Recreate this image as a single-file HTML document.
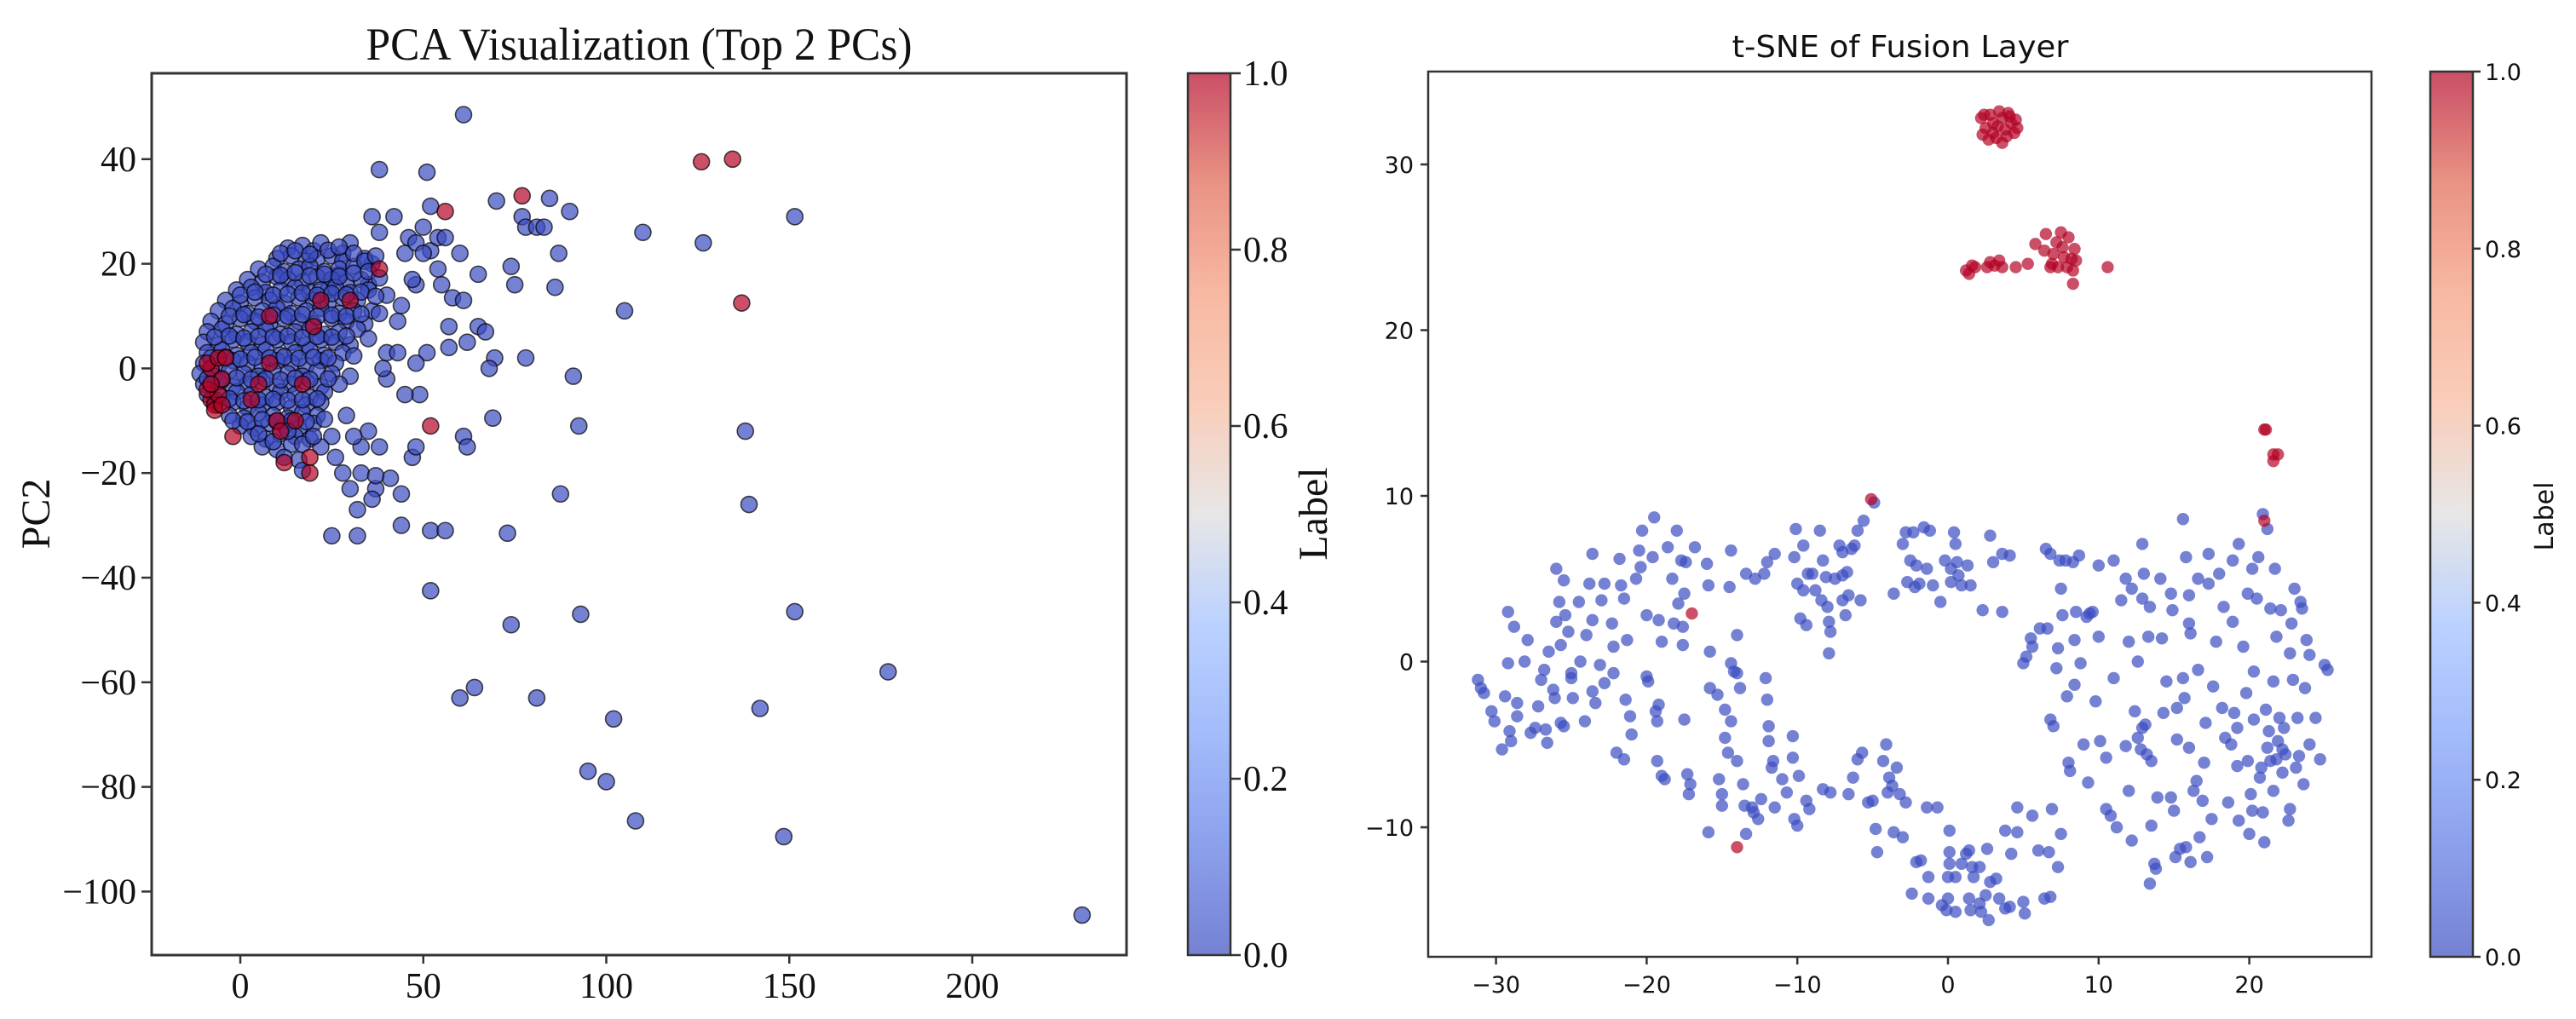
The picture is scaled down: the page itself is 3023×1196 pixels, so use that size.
<!DOCTYPE html>
<html><head><meta charset="utf-8"><style>
html,body{margin:0;padding:0;background:#fff;overflow:hidden;}
svg{display:block;}
</style></head><body>
<svg id="fig" xmlns="http://www.w3.org/2000/svg" width="3023" height="1196" viewBox="0 0 3023 1196">
<defs>
<linearGradient id="cw" x1="0" y1="1" x2="0" y2="0">
<stop offset="0" stop-color="#3b4cc0"/><stop offset="0.125" stop-color="#5a78e4"/><stop offset="0.25" stop-color="#7b9ff9"/><stop offset="0.375" stop-color="#9ebeff"/><stop offset="0.5" stop-color="#dddcdc"/><stop offset="0.625" stop-color="#f7b89c"/><stop offset="0.75" stop-color="#f49a7b"/><stop offset="0.875" stop-color="#e0654f"/><stop offset="1" stop-color="#b40426"/>
</linearGradient>
</defs>
<rect width="3023" height="1196" fill="#fff"/>
<g id="left"></g>
<g id="right"></g>
</svg>
<script>
// ---------- PCA data ----------
const pcaXTicks=[0,50,100,150,200];
const pcaYTicks=[40,20,0,-20,-40,-60,-80,-100];
const cbTicks=[0.0,0.2,0.4,0.6,0.8,1.0];
const pcaOutliers=[[61,48.5],[126.5,24],[38,38],[51,37.5],[70,32],[84.5,32.5],[77,29],[90,30],[151.5,29],[36,29],[42,29],[52,31],[110,26],[78,27],[81,27],[83,27],[87,22],[86,15.5],[74,19.5],[75,16],[65,18],[60,22],[52,22.5],[54,19],[55,16],[58,13.5],[61,13],[105,11],[57,8],[65,8],[67,7],[62,5],[57,4],[69.5,2],[78,2],[68,0],[91,-1.5],[51,3],[48,1],[138,-12],[92.5,-11],[61,-13],[62,-15],[69,-9.5],[49,-5],[45,-5],[87.5,-24],[139,-26],[44,-30],[52,-31],[56,-31],[73,-31.5],[25,-32],[32,-32],[52,-42.5],[93,-47],[151.5,-46.5],[74,-49],[177,-58],[64,-61],[60,-63],[81,-63],[142,-65],[102,-67],[95,-77],[100,-79],[108,-86.5],[148.5,-89.5],[230,-104.5],[47,-17],[48,-15],[44,-24],[41,-21],[37,-23],[36,-25],[38,-15],[32,-27],[33,-20],[37,-20.5],[30,-23],[28,-20],[26,-17],[25,-13],[33,-15],[35,-12],[31,-13],[29,-9],[40,-2],[39,0],[40,3],[43,3],[44,12],[48,16],[47,17],[45,22],[46,25],[48,24],[50,22],[54,25],[56,25],[50,27],[43,9],[40,14],[36,20],[34,21],[35,16],[38,26],[30,24],[28,22],[27,18],[24,15]];
const pcaCluster=[
[13,23],[17,23.5],[20,22.5],[22,24],
[10,21],[14,21.5],[18,20.5],[21,21],[25,21.5],[28,20.5],
[5,19],[9,19.5],[12,18.5],[16,19],[19,19.5],[23,18.5],[27,19],[31,19.5],
[2,17],[6,16.5],[10,17.5],[13,17],[17,16.5],[21,17.5],[25,17],[29,16.5],[33,17],
[-1,15],[3,15.5],[7,14.5],[11,15],[15,15.5],[19,14.5],[22,15],[26,15.5],[30,14.5],[35,15],
[-4,13],[0,12.5],[4,13.5],[8,13],[12,12.5],[16,13.5],[20,13],[24,12.5],[28,13.5],[32,13],
[-6,11],[-2,11.5],[2,10.5],[6,11],[10,11.5],[14,10.5],[18,11],[22,11.5],[27,10.5],[31,11],[36,11],
[-8,9],[-4,8.5],[0,9.5],[4,9],[8,8.5],[12,9.5],[16,9],[20,8.5],[25,9.5],[29,9],[34,8.5],
[-9,7],[-5,7.5],[-1,6.5],[3,7],[7,7.5],[11,6.5],[15,7],[19,7.5],[23,6.5],[27,7],[32,7.5],
[-10,5],[-6,4.5],[-2,5.5],[2,5],[6,4.5],[10,5.5],[14,5],[18,4.5],[22,5.5],[26,5],[30,4.5],
[-9,3],[-5,3.5],[-1,2.5],[3,3],[7,3.5],[11,2.5],[15,3],[19,3.5],[23,2.5],[28,3],
[-10,1],[-6,0.5],[-2,1.5],[2,1],[6,0.5],[10,1.5],[14,1],[18,0.5],[22,1.5],[26,1],
[-11,-1],[-7,-1.5],[-3,-0.5],[1,-1],[5,-1.5],[9,-0.5],[13,-1],[17,-1.5],[21,-0.5],[25,-1],[30,-1.5],
[-10,-3],[-6,-2.5],[-2,-3.5],[2,-3],[6,-2.5],[10,-3.5],[14,-3],[18,-2.5],[22,-3.5],[27,-3],
[-9,-5],[-5,-5.5],[-1,-4.5],[3,-5],[7,-5.5],[11,-4.5],[15,-5],[19,-5.5],[23,-4.5],
[-6,-7],[-2,-6.5],[2,-7.5],[6,-7],[10,-6.5],[14,-7.5],[18,-7],[22,-6.5],
[-3,-9],[1,-9.5],[5,-8.5],[9,-9],[13,-9.5],[17,-8.5],[21,-9],
[0,-11],[4,-11.5],[8,-10.5],[12,-11],[16,-11.5],[20,-10.5],
[3,-13],[7,-13.5],[11,-12.5],[15,-13],[19,-13.5],
[6,-15],[10,-15.5],[14,-14.5],[22,-15],
[12,-17],[16,-17.5],[17,-19.5]];
const pcaCluster2=[
[11,22],[15,22.5],[19,21.8],[24,22.6],[27,23.2],[31,22],[34,20.5],[37,21.5],
[7,18],[11,17.8],[15,18.3],[19,17.7],[23,18],[27,17.6],[31,18.2],[35,18.5],[38,17.3],
[0,14],[4,14.6],[9,14],[13,14.2],[17,14.4],[21,14],[25,14.3],[29,14.1],[33,14.6],[37,13.8],
[-3,10],[1,10.3],[5,9.8],[9,10.2],[13,10],[17,10.3],[21,9.9],[25,10.2],[29,10],[33,10.4],[38,10.5],
[-7,6],[-3,6.2],[1,5.8],[5,6.1],[9,6],[13,6.2],[17,5.9],[21,6.1],[25,6],[29,6.2],[35,5.7],
[-8,2],[-4,2.2],[0,1.8],[4,2.1],[8,2],[12,2.2],[16,1.9],[20,2.1],[24,2],[31,2.4],
[-9,-2],[-5,-2.2],[-1,-1.8],[3,-2.1],[7,-2],[11,-2.2],[15,-1.9],[19,-2.1],[24,-2],
[-7,-6],[-3,-5.8],[1,-6.2],[5,-6],[9,-5.9],[13,-6.1],[17,-6],[21,-5.8],
[-2,-10],[2,-10.2],[6,-9.8],[10,-10.1],[14,-10],[18,-10.2],[23,-9.7],
[5,-12.5],[9,-14],[13,-12],[17,-14.5],[20,-13]];
const pcaRed=[[126,39.5],[134.5,40],[77,33],[56,30],[137,12.5],[52,-11],[38,19],[-8,-6],[-7,-7],[-6,-5],[-9,-4],[-7,-8],[-5,-7],[-8,0],[-9,1],[-6,2],[-4,2],[8,1],[17,-3],[-5,-2],[5,-3],[10,-10],[11,-12],[19,-17],[19,-20],[-2,-13],[12,-18],[20,8],[22,13],[30,13],[15,-10],[3,-6],[-8,-3],[8,10]];

// ---------- t-SNE data ----------
const tsneXTicks=[-30,-20,-10,0,10,20];
const tsneYTicks=[30,20,10,0,-10];
const tsneRed=[[2.2,32.8],[2.5,32.2],[2.3,31.8],[2.8,33.0],[3.0,32.5],[3.2,31.6],[3.4,33.2],[3.6,32.8],[3.8,32.1],[3.6,31.3],[4.0,33.1],[4.2,32.5],[4.4,31.9],[4.5,32.7],[3.0,31.9],[2.7,31.5],[3.9,31.7],[4.1,32.9],[2.4,33.0],[3.3,32.3],[4.6,32.2],
[1.2,23.6],[1.4,23.4],[1.6,23.9],[1.8,23.8],[2.6,23.8],[2.8,24.1],[3.1,23.9],[3.4,24.2],[3.6,23.8],[4.5,23.8],[5.3,24.0],[5.8,25.2],[6.4,24.8],[6.5,25.8],[6.8,23.8],[7.0,24.6],[7.3,23.8],[7.5,25.9],[7.6,25.0],[7.7,24.4],[7.9,23.8],[8.0,25.6],[8.2,24.3],[8.3,23.6],[8.4,24.9],[8.5,24.2],[8.3,22.8],[10.6,23.8],[7.2,25.3],[6.9,24.0],
[21,14],[21.1,14],[21.6,12.5],[21.9,12.5],[21.6,12.1],[21,8.5],[-5.1,9.8],[-17,2.9],[-14,-11.2]];
const tsneBlue=[[20.9,8.9],[21.2,8],[-4.9,9.6],
[-31.2,-1.1],[-31,-1.6],[-30.8,-1.9],[-30.3,-3],[-30.1,-3.6],[-29.6,-5.3],[-29.4,-2.1],[-29.1,-4.2],[-29.0,-4.8],[-29.2,-0.1],[-29.2,3.0],[-28.8,2.1],[-28.6,-2.5],[-28.6,-3.3],[-28.1,0.0],[-27.9,1.3],[-27.7,-4.3],[-27.4,-4.0],[-27.2,-2.7],[-27.0,-1.1],[-26.8,-0.5],[-26.7,-4.1],[-26.6,-4.9],[-26.5,0.6],[-26.2,-1.7],[-26.1,-2.2],[-26.0,2.4],[-26.0,5.6],[-25.8,3.6],[-25.7,1.0],[-25.7,-3.7],[-25.5,-3.9],[-25.5,4.9],[-25.4,2.8],[-25.2,1.8],[-25.0,-0.7],[-25.0,-1.0],[-24.9,-2.2],[-24.5,3.6],[-24.4,0.0],[-24.1,-3.6],[-24.0,1.6],[-23.8,4.7],[-23.6,6.5],[-23.6,2.5],[-23.6,-1.8],[-23.4,-2.5],[-23.1,-0.2],[-23.0,3.7],[-22.8,4.7],[-22.8,-1.3],[-22.3,2.3],[-22.2,0.9],[-22.2,-0.7],[-22.0,-5.5],[-21.8,6.2],[-21.7,4.6],[-21.5,-5.9],[-21.5,3.8],[-21.4,-2.3],[-21.3,1.3],[-21.1,-3.3],[-21.0,-4.4],[-20.7,5.0],[-20.5,6.7],[-20.4,5.7],[-20.3,7.9],[-20.0,2.8],[-20.0,-0.9],[-19.9,-1.2],[-19.6,6.3],[-19.5,8.7],[-19.4,-3.0],[-19.3,-3.6],[-19.2,-2.6],[-19.3,-6.0],[-19.2,2.5],[-19.0,1.2],[-19.0,-6.9],[-18.8,-7.1],
[-18.6,6.9],[-18.3,5.0],[-18.2,2.3],[-18.0,7.9],[-17.9,3.5],[-17.7,6.1],[-17.5,4.1],[-17.4,6.0],[-17.6,2.1],[-17.6,1.0],[-17.5,-3.5],[-17.3,-6.8],[-17.1,-7.4],[-17.2,-8.0],[-16.8,6.9],[-16.0,5.9],[-15.9,4.6],[-15.8,0.6],[-15.8,-1.6],[-15.3,-2.0],[-15.2,-7.1],[-15.0,-8.0],[-15.0,-8.7],[-14.8,-2.9],[-14.8,-4.6],[-14.6,-5.5],[-14.4,-3.6],[-14.5,4.5],[-14.4,6.7],[-14.4,-0.1],[-14.2,-0.6],[-14.0,-0.7],[-13.8,-1.6],[-13.6,-7.4],[-13.4,5.3],[-12.8,5.0],[-13.5,-8.7],[-13.4,-10.4],[-13.0,-8.8],[-12.9,-9.1],[-12.6,-9.5],[-12.2,5.3],[-12.0,6.0],[-12.1,-1.0],[-12.0,-2.3],[-11.9,-3.9],[-11.9,-4.8],[-11.6,-6.0],[-11.5,-8.8],[-11.7,-6.4],[-11.5,6.5],[-11.0,-7.1],[-10.7,-7.9],[-10.3,-5.8],[-10.3,-4.5],[-10.2,-9.5],[-10.0,-9.9],[-9.9,-6.9],[-9.4,-8.4],[-9.6,4.3],[-9.3,5.3],[-9.6,7.0],[-9.2,-8.9],[-12.4,-8.3],[-14.0,1.6],[-14.0,-6.0],[-15.9,-10.3],
[-10.2,6.3],[-10.1,8.0],[-10.0,4.7],[-9.8,2.6],[-9.4,2.2],[-9.0,5.3],[-8.8,4.3],[-8.5,7.9],[-8.4,3.7],[-8.3,6.1],[-8.1,5.1],[-8.0,3.3],[-7.9,2.4],[-7.8,1.8],[-7.9,0.5],[-7.5,5.0],[-7.2,7.0],[-7.0,5.2],[-7.0,3.7],[-6.8,2.8],[-6.6,4.0],[-6.4,6.8],[-6.2,7.0],[-6.0,7.9],[-5.8,3.7],[-5.6,8.5],[-7.0,6.6],[-6.7,5.4],
[-8.3,-7.7],[-7.8,-7.9],[-6.6,-8.0],[-6.3,-7.0],[-6.0,-5.9],[-5.7,-5.5],[-5.3,-8.5],[-5.0,-8.4],[-4.8,-10.1],[-4.7,-11.5],[-4.3,-6.0],[-4.1,-5.0],[-4.0,-7.9],[-3.9,-7.0],[-3.7,-7.5],[-3.6,-10.3],[-3.4,-6.4],[-3.2,-8.0],[-3.0,-10.6],[-2.8,-8.5],[-2.1,-12.1],[-1.8,-12.0],[-1.4,-8.8],[-1.3,-13.0],[-1.3,-14.3],[-0.7,-8.8],[-0.4,-14.7],[-2.4,-14.0],
[-3.6,4.1],[-3.0,7.1],[-2.8,7.8],[-2.7,4.8],[-2.5,6.1],[-2.3,7.8],[-2.2,4.5],[-2.1,5.8],[-1.9,4.7],[-1.6,8.1],[-1.4,5.6],[-1.2,7.9],[-1.0,4.6],[-0.5,3.6],[-0.2,6.1],[0.2,4.8],[0.4,7.8],[0.5,7.1],[0.6,6.0],[0.7,5.2],[0.9,4.6],[1.3,5.8],[1.5,4.6],[2.3,3.1],[2.8,7.6],[3.0,6.0],[3.6,3.0],[3.6,6.5],[4.1,6.4],[0.2,5.6],
[0.1,-10.2],[0.1,-11.5],[0.1,-12.2],[0.0,-13.0],[0.0,-14.3],[-0.1,-15.0],[0.5,-15.1],[0.5,-13.0],[0.9,-12.2],[1.2,-11.6],[1.4,-11.4],[1.6,-12.4],[1.7,-13.0],[2.1,-12.4],[1.4,-14.3],[1.5,-15.0],[2.1,-14.6],[2.2,-15.1],[2.5,-14.1],[2.6,-11.3],[2.8,-13.3],[2.7,-15.6],[3.2,-13.1],[3.4,-14.3],[3.8,-10.2],[3.8,-14.9],[4.1,-14.8],[4.2,-11.6],[4.6,-8.8],[4.6,-10.3],[5.0,-14.5],[5.1,-15.2],[5.6,-9.3],[6.0,-11.4],[6.4,-14.3],[6.8,-14.2],[6.7,-11.5],[6.9,-8.9],[7.3,-12.4],[7.5,-10.4],
[5.0,-0.1],[5.2,0.3],[5.5,1.4],[5.6,0.9],[6.1,2.0],[6.5,6.8],[6.6,2.0],[6.8,6.5],[6.8,-3.5],[7.0,-3.9],[7.2,-0.4],[7.3,0.8],[7.4,6.1],[7.5,4.4],[7.6,2.8],[7.8,6.1],[7.9,-2.1],[8.0,-6.1],[8.1,-6.6],[8.3,6.0],[8.4,1.3],[8.4,-1.4],[8.5,3.0],[8.7,6.4],[8.8,-0.1],[9.0,-5.0],[9.2,2.7],[9.3,-7.3],[9.4,2.9],[9.8,-2.4],[10.0,5.8],[10.1,-4.8],[10.5,-5.8],[10.5,-8.9],[10.8,-9.3],[11.0,6.1],[11.2,-10.0],[11.5,3.7],[11.8,5.0],[11.8,-5.1],[12.0,1.2],[12.2,-10.8],[12.4,-3.0],[12.6,-4.6],[12.8,-5.3],[12.9,-4.0],[9.6,3.0],[10.0,1.5],[11.0,-1.0],[12.0,-7.8],
[12.2,4.4],[12.6,0.0],[12.9,3.8],[12.9,7.1],[13.0,5.3],[13.1,-3.8],[13.2,-5.6],[13.3,1.5],[13.4,3.3],[13.5,-6.0],[13.5,-9.9],[13.4,-13.4],[13.7,-12.2],[13.8,-12.5],[13.9,-8.2],[14.1,5.0],[14.2,1.4],[14.3,-3.1],[14.5,-1.2],[14.8,-8.2],[14.8,4.1],[14.9,3.1],[15.0,-9.0],[15.1,-11.8],[15.2,-2.8],[15.2,-4.7],[15.4,-11.3],[15.6,8.6],[15.6,-1.0],[15.7,-2.2],[15.8,-11.2],[15.8,6.3],[16.0,-5.2],[16.0,4.0],[16.0,2.3],[16.1,-12.1],[16.1,1.7],[16.3,-7.8],[16.5,-7.2],[16.6,5.0],[16.6,-0.5],[16.7,-10.6],[16.9,-8.4],[17.0,-6.1],[17.1,-3.7],[17.2,-11.8],[17.3,4.7],[17.3,6.5],[17.5,-9.5],[17.6,-1.5],[17.8,1.2],[18.0,5.3],[18.2,-2.8],[18.3,3.3],[18.4,-4.6],[18.6,-8.5],[18.8,-5.0],[18.9,2.4],[18.9,6.1],[19.0,-3.1],[19.2,-6.3],[19.3,-9.6],[19.3,7.1],[19.6,0.9],[19.8,-1.9],[19.9,-6.0],[19.9,4.1],[20.0,-10.4],[20.1,-8.0],[20.2,-9.0],[20.2,5.6],[20.3,-0.6],[20.3,-3.5],[20.5,3.8],[20.6,6.3],[20.8,-6.4],[20.9,-9.1],[21.0,-10.9],[21.1,-2.9],[21.2,-5.2],[21.3,-4.2],[21.4,-6.0],[21.4,3.2],[21.6,-1.2],[21.6,-7.8],[21.7,5.6],[21.8,1.5],[21.9,-4.8],[22.0,-3.4],[22.1,3.1],[22.2,-5.3],[22.2,-6.7],[22.3,-4.0],[22.4,-5.6],[22.6,-9.6],[22.7,0.5],[22.7,-8.9],[22.8,2.3],[22.9,-1.1],[23.0,4.4],[23.1,-6.4],[23.2,-3.4],[23.3,-5.7],[23.4,3.6],[23.5,3.2],[23.6,-7.4],[23.7,-1.6],[23.8,1.3],[24.0,0.4],[24.0,-5.0],[24.4,-3.4],[24.7,-5.9],[25.0,-0.2],[25.2,-0.5],[20.7,-7.0],[21.8,-5.9],[19.2,-4.0]];

// ---------- drawing ----------
const NS='http://www.w3.org/2000/svg';
function mk(parent,tag,attrs){const e=document.createElementNS(NS,tag);for(const k in attrs)e.setAttribute(k,attrs[k]);parent.appendChild(e);return e;}
function txt(parent,str,x,y,size,family,anchor,width,rot){
  const t=mk(parent,'text',{x:x,y:y,'font-size':size,'font-family':family,'text-anchor':anchor,fill:'#111'});
  t.textContent=str;
  if(width){t.setAttribute('textLength',width);t.setAttribute('lengthAdjust','spacingAndGlyphs');}
  if(rot)t.setAttribute('transform','rotate('+rot+' '+x+' '+y+')');
  return t;
}
const serif='"Liberation Serif", "DejaVu Serif", serif';
const sans='"DejaVu Sans", "Liberation Sans", sans-serif';
const fmt=v=>String(v).replace('-','\u2212');

// PCA panel
const L=document.getElementById('left');
const lx=x=>282+x*4.295, ly=y=>432.4-y*6.14;
const LB={x0:178,x1:1322,y0:86,y1:1121};
const gl=mk(L,'g',{});


function pcaDot(p,col){const c=mk(gl,'circle',{cx:lx(p[0]),cy:ly(p[1]),r:9.5,fill:col,'fill-opacity':0.7,stroke:'#000','stroke-opacity':0.7,'stroke-width':1.6});

}
pcaOutliers.forEach(p=>pcaDot(p,'#3b4cc0'));
pcaCluster.forEach(p=>pcaDot(p,'#3b4cc0'));
pcaCluster2.forEach(p=>pcaDot(p,'#3b4cc0'));
pcaRed.forEach(p=>pcaDot(p,'#b40426'));
const lf=mk(L,'rect',{x:LB.x0,y:LB.y0,width:LB.x1-LB.x0,height:LB.y1-LB.y0,fill:'none',stroke:'#333','stroke-width':3});


pcaXTicks.forEach(v=>{const X=lx(v);mk(L,'line',{x1:X,x2:X,y1:LB.y1,y2:LB.y1+10,stroke:'#333','stroke-width':2.5});
const t=txt(L,fmt(v),X,1171,42,serif,'middle');

});
pcaYTicks.forEach(v=>{const Y=ly(v);mk(L,'line',{x1:LB.x0-12,x2:LB.x0,y1:Y,y2:Y,stroke:'#333','stroke-width':2.5});
const t=txt(L,fmt(v),160,Y+14,42,serif,'end');

});
let t1=txt(L,'PCA Visualization (Top 2 PCs)',750,70,54,serif,'middle',641);


let t2=txt(L,'PC2',58,603,48,serif,'middle',null,-90);


// left colorbar
const cb1=mk(L,'rect',{x:1394,y:86,width:50,height:1035,fill:'url(#cw)','fill-opacity':0.7,stroke:'#333','stroke-width':2.5});


cbTicks.forEach(v=>{const Y=1121-v*1035;mk(L,'line',{x1:1444,x2:1456,y1:Y,y2:Y,stroke:'#333','stroke-width':2.5});
const t=txt(L,v.toFixed(1),1459,Y+14,42,serif,'start');

});
let t3=txt(L,'Label',1557,603,48,serif,'middle',null,-90);



// t-SNE panel
const R=document.getElementById('right');
const rx=x=>2286+x*17.68, ry=y=>776.5-y*19.45;
const RB={x0:1676,x1:2783,y0:84,y1:1123};
const gr=mk(R,'g',{});


function tDot(p,col){const c=mk(gr,'circle',{cx:rx(p[0]),cy:ry(p[1]),r:7.2,fill:col,'fill-opacity':0.7});

}
tsneBlue.forEach(p=>tDot(p,'#3b4cc0'));
tsneRed.forEach(p=>tDot(p,'#b40426'));
const rf=mk(R,'rect',{x:RB.x0,y:RB.y0,width:RB.x1-RB.x0,height:RB.y1-RB.y0,fill:'none',stroke:'#333','stroke-width':2.5});


tsneXTicks.forEach(v=>{const X=rx(v);mk(R,'line',{x1:X,x2:X,y1:RB.y1,y2:RB.y1+9,stroke:'#333','stroke-width':2.5});
const t=txt(R,fmt(v),X,1165,27,sans,'middle');

});
tsneYTicks.forEach(v=>{const Y=ry(v);mk(R,'line',{x1:RB.x0-9,x2:RB.x0,y1:Y,y2:Y,stroke:'#333','stroke-width':2.5});
const t=txt(R,fmt(v),1659,Y+10,27,sans,'end');

});
let t4=txt(R,'t-SNE of Fusion Layer',2230,67,36,sans,'middle',395);


const cb2=mk(R,'rect',{x:2852,y:84,width:50,height:1039,fill:'url(#cw)','fill-opacity':0.7,stroke:'#333','stroke-width':2.5});


cbTicks.forEach(v=>{const Y=1123-v*1039;mk(R,'line',{x1:2902,x2:2911,y1:Y,y2:Y,stroke:'#333','stroke-width':2.5});
const t=txt(R,v.toFixed(1),2916,Y+10,27,sans,'start');

});
let t5=txt(R,'Label',2996,606,30,sans,'middle',null,-90);


</script>
</body></html>
